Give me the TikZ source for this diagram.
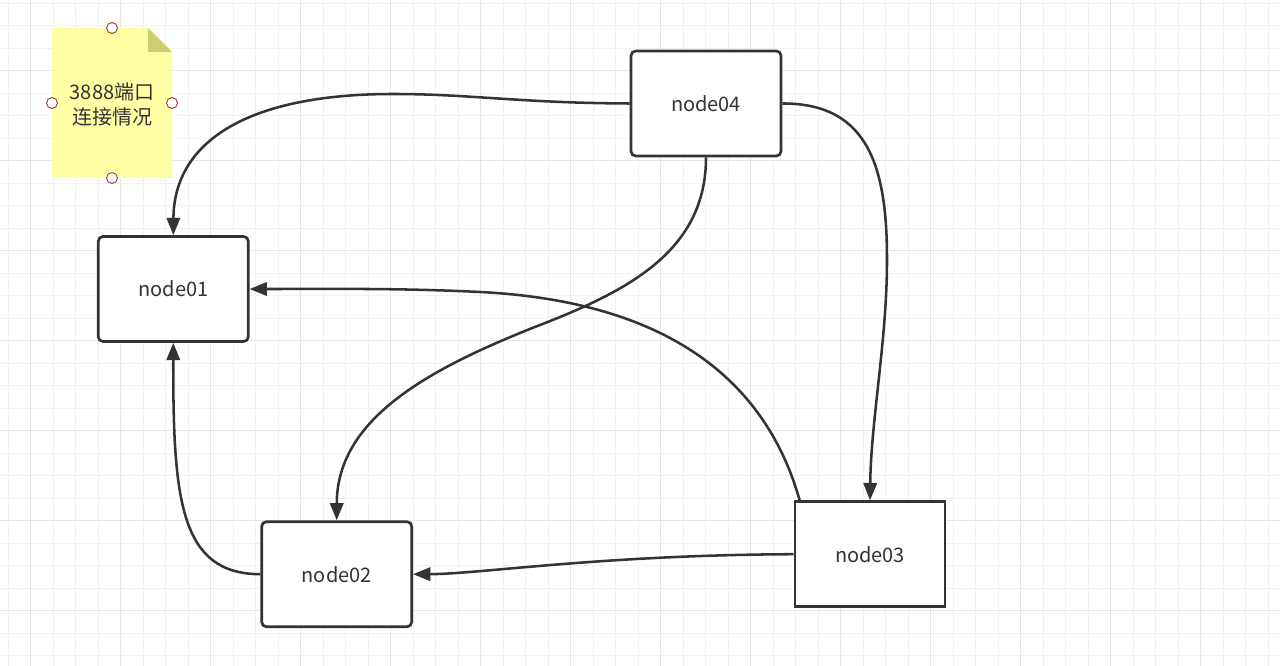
\documentclass[tikz,border=0pt]{standalone}
\usepackage{fontspec}
\setmainfont{Noto Sans CJK SC}
\usetikzlibrary{arrows.meta}
\definecolor{ink}{HTML}{333333}
\definecolor{gridminor}{HTML}{F2F2F2}
\definecolor{gridmajor}{HTML}{E6E6E6}
\definecolor{notey}{HTML}{FFFFA6}
\definecolor{notefold}{HTML}{CDCD77}
\definecolor{handlec}{HTML}{9B3B3B}
\begin{document}
\begin{tikzpicture}[x=0.75pt,y=-0.75pt,
  box/.style={draw=ink, line width=2pt, fill=white, minimum width=112.5pt, minimum height=78.75pt, inner sep=0pt, text=ink, font=\fontsize{15pt}{18pt}\selectfont},
  rbox/.style={box, rounded corners=3.5pt},
  link/.style={draw=ink, line width=1.9pt, -{Triangle[length=13pt,width=10pt]}},
  minorline/.style={draw=gridminor, line width=0.75pt},
  majorline/.style={draw=gridmajor, line width=0.75pt},
  notetext/.style={text=ink, align=center, inner sep=0pt, font=\fontsize{15pt}{18.5pt}\selectfont},
  handle/.style={draw=handlec, line width=0.7pt, fill=white}]
\useasboundingbox (0,0) rectangle (1280,666);
\fill[white] (0,0) rectangle (1280,666);
% grid
\foreach \i in {0,...,56} \draw[minorline] ({8.2+22.5*\i},0) -- ({8.2+22.5*\i},666);
\foreach \i in {0,...,29} \draw[minorline] (0,{3.3+22.5*\i}) -- (1280,{3.3+22.5*\i});
\foreach \i in {0,...,13} \draw[majorline] ({30.7+90*\i},0) -- ({30.7+90*\i},666);
\foreach \i in {0,...,6} \draw[majorline] (0,{70.8+90*\i}) -- (1280,{70.8+90*\i});
% note
\fill[notey] (52,28) -- (148,28) -- (172,52) -- (172,178) -- (52,178) -- cycle;
\fill[notefold] (148,28) -- (148,52) -- (172,52) -- cycle;
\node[notetext] (note) at (112,104.5) {3888端口\\连接情况};
\draw[handle] (112,28) circle[radius=4.1pt];
\draw[handle] (52,103) circle[radius=4.1pt];
\draw[handle] (172,103) circle[radius=4.1pt];
\draw[handle] (112,178) circle[radius=4.1pt];
% nodes
\node[rbox] (n4) at (706,103.5) {node04};
\node[rbox] (n1) at (173.3,289) {node01};
\node[rbox] (n2) at (336.7,574.2) {node02};
\node[box] (n3) at (870,554.2) {node03};
% connectors
\draw[link] (n4.west) .. controls (520,103) and (470,94) .. (393,94) .. controls (250,94) and (174,140) .. (n1.north);
\draw[link] (n4.south) .. controls (706,250) and (630,290) .. (540,325) .. controls (425,370) and (337,420) .. (n2.north);
\draw[link] (n4.east) .. controls (870,103) and (887,170) .. (887,260) .. controls (887,340) and (871,420) .. (n3.north);
\draw[link] ([xshift=4.5pt]n3.north west) .. controls (760,360) and (640,300) .. (480,292) .. controls (400,288) and (330,289) .. (n1.east);
\draw[link] (n3.west) .. controls (600,555) and (480,574) .. (n2.east);
\draw[link] (n2.west) .. controls (180,574) and (173,500) .. (n1.south);
\end{tikzpicture}
\end{document}
